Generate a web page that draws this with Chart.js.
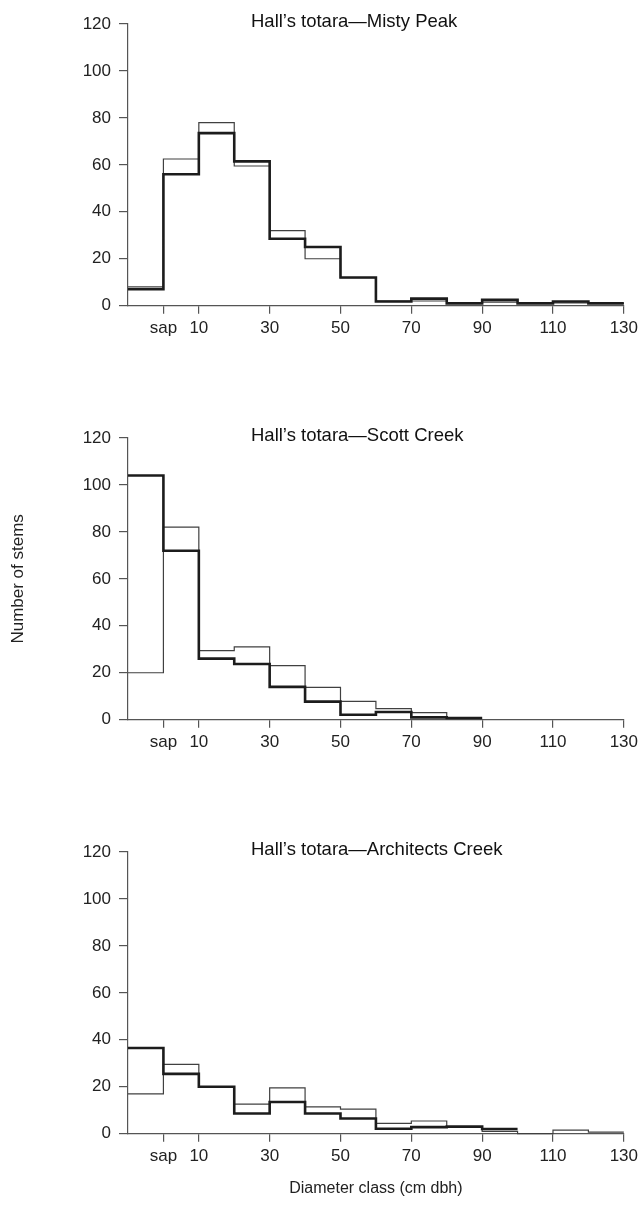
<!DOCTYPE html>
<html>
<head>
<meta charset="utf-8">
<script src="https://cdn.jsdelivr.net/npm/chart.js@4/dist/chart.umd.min.js"></script>
<style>
  html, body { margin: 0; padding: 0; background: #fff; }
  #wrap { position: relative; width: 642px; height: 1215px; }
  canvas { position: absolute; left: 0; }
</style>
</head>
<body>
<div id="wrap">
  <canvas id="c1" width="642" height="414" style="top:0px"></canvas>
  <canvas id="c2" width="642" height="414" style="top:414px"></canvas>
  <canvas id="c3" width="642" height="387" style="top:828px"></canvas>
</div>
<script>
// ---- data ----
const binEdges = [-10, 0, 10, 20, 30, 40, 50, 60, 70, 80, 90, 100, 110, 120, 130];
const xTickValues = [0, 10, 30, 50, 70, 90, 110, 130];
const xTickLabels = ['sap', '10', '30', '50', '70', '90', '110', '130'];
const yTickValues = [0, 20, 40, 60, 80, 100, 120];

const titles = ['Hall\u2019s totara\u2014Misty Peak', 'Hall\u2019s totara\u2014Scott Creek', 'Hall\u2019s totara\u2014Architects Creek'];

const mistyThick = [7, 56, 73.5, 61.5, 28.5, 25, 12, 1.8, 3, 1, 2.5, 1, 1.8, 1];
const mistyThin  = [8, 62.5, 78, 59.5, 32, 20, 12, 2, 2, 1, 1.5, 1, 1.2, 1];

const scottThick = [104, 72, 26, 23.7, 14, 7.7, 2.1, 3.3, 1, 0.7];
const scottThin  = [20, 82, 29.4, 31, 23, 13.8, 7.8, 4.7, 3, 0.7];

const archThick = [36.5, 25.5, 20, 8.6, 13.5, 8.6, 6.5, 2.1, 2.8, 3, 2];
const archThin  = [17, 29.5, 20, 12.6, 19.5, 11.4, 10.5, 4.4, 5.4, 3, 1, 0, 1.5, 0.7];

const yTitle = 'Number of stems';
const xTitle = 'Diameter class (cm dbh)';

// ---- helpers ----
function stepPoints(vals) {
  const pts = vals.map((v, i) => ({ x: binEdges[i], y: v }));
  pts.push({ x: binEdges[vals.length], y: vals[vals.length - 1] });
  return pts;
}

const FONT = 'Liberation Sans, Arial, sans-serif';
const AXIS_COLOR = '#555';

const panelTitlePlugin = {
  id: 'panelTitle',
  afterDraw(chart, args, opts) {
    const ctx = chart.ctx;
    const a = chart.chartArea;
    ctx.save();
    ctx.font = '18.5px ' + FONT;
    ctx.fillStyle = '#111';
    ctx.textAlign = 'left';
    ctx.textBaseline = 'middle';
    ctx.fillText(opts.text, a.left + 123, a.top - 2);
    ctx.restore();
  }
};

function makeChart(id, title, thick, thin, opts) {
  const canvas = document.getElementById(id);
  const H = canvas.height;
  const plotTop = 24;
  const plotH = 281.7;
  return new Chart(canvas, {
    type: 'line',
    data: {
      datasets: [
        { data: stepPoints(thick), stepped: 'before', borderColor: '#1c1c1c', borderWidth: 2.6, pointRadius: 0, fill: false, clip: false },
        { data: stepPoints(thin), stepped: 'before', borderColor: '#404040', borderWidth: 1.2, pointRadius: 0, fill: false, clip: false }
      ]
    },
    options: {
      responsive: false,
      animation: false,
      devicePixelRatio: 1,
      layout: { padding: { left: 0, right: 17, top: plotTop, bottom: 0 } },
      plugins: {
        legend: { display: false },
        tooltip: { enabled: false },
        panelTitle: { text: title }
      },
      scales: {
        x: {
          type: 'linear',
          min: -10, max: 130,
          afterBuildTicks: (s) => { s.ticks = xTickValues.map(v => ({ value: v })); },
          afterFit: (s) => { s.height = H - plotTop - plotH; },
          ticks: {
            autoSkip: false, maxRotation: 0, padding: 4,
            color: '#222', font: { family: FONT, size: 17 },
            callback: (v) => { const i = xTickValues.indexOf(v); return i >= 0 ? xTickLabels[i] : ''; }
          },
          grid: { display: true, drawOnChartArea: false, drawTicks: true, tickLength: 8, color: AXIS_COLOR, lineWidth: 1.2 },
          border: { display: true, color: AXIS_COLOR, width: 1.2 },
          title: opts.xTitle ? { display: true, text: xTitle, color: '#222', font: { family: FONT, size: 16 }, padding: { top: 0, bottom: 17 } } : { display: false }
        },
        y: {
          min: 0, max: 120,
          afterBuildTicks: (s) => { s.ticks = yTickValues.map(v => ({ value: v })); },
          afterFit: (s) => { s.width = 128; },
          ticks: { padding: 8, color: '#222', font: { family: FONT, size: 17 } },
          grid: { display: true, drawOnChartArea: false, drawTicks: true, tickLength: 9, color: AXIS_COLOR, lineWidth: 1.2 },
          border: { display: true, color: AXIS_COLOR, width: 1.2 },
          title: opts.yTitle ? { display: true, text: yTitle, color: '#222', font: { family: FONT, size: 17 }, padding: { top: 8, bottom: 0 } } : { display: false }
        }
      }
    },
    plugins: [panelTitlePlugin]
  });
}

makeChart('c1', titles[0], mistyThick, mistyThin, {});
makeChart('c2', titles[1], scottThick, scottThin, { yTitle: true });
makeChart('c3', titles[2], archThick, archThin, { xTitle: true });
</script>
</body>
</html>
